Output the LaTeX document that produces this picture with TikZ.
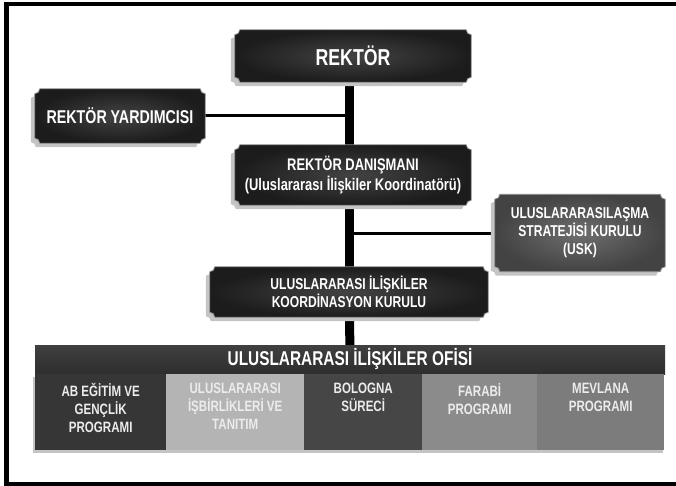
\documentclass[tikz,border=0pt]{standalone}
\usepackage{fontspec}
\setmainfont[FakeStretch=0.77]{Liberation Sans}
\usetikzlibrary{calc,positioning,backgrounds}

\definecolor{plaqueout}{HTML}{1C1C1C}
\definecolor{plaquein}{HTML}{434343}
\definecolor{uskout}{HTML}{434343}
\definecolor{uskin}{HTML}{6E6E6E}
\definecolor{plaqueedge}{HTML}{8C8C8C}
\definecolor{shadowgray}{HTML}{C4C4C4}
\definecolor{cellab}{HTML}{363636}
\definecolor{cellui}{HTML}{B4B4B4}
\definecolor{cellbol}{HTML}{464646}
\definecolor{cellfar}{HTML}{8B8B8B}
\definecolor{cellmev}{HTML}{7C7C7C}
\definecolor{cellink}{HTML}{ECECEC}

% plaque outline with hollow corners, used inside a let
\newcommand\plaquepath{(\x1,\y1+5pt) -- (\x1,\y2-5pt) arc[start angle=-90,end angle=0,radius=5pt]
  -- (\x2-5pt,\y2) arc[start angle=180,end angle=270,radius=5pt]
  -- (\x2,\y1+5pt) arc[start angle=90,end angle=180,radius=5pt]
  -- (\x1+5pt,\y1) arc[start angle=0,end angle=90,radius=5pt] -- cycle}
\newcommand\plaque[3]{%
  \path[fill=shadowgray] let \p1=([shift={(-4pt,-4pt)}]#1.south west),
    \p2=([shift={(-4pt,-4pt)}]#1.north east) in \plaquepath;
  \path[shade,inner color=#3,outer color=#2,draw=plaqueedge,line width=0.8pt]
    let \p1=(#1.south west), \p2=(#1.north east) in \plaquepath;
}

\begin{document}
\begin{tikzpicture}
  [x=1pt,y=1pt,
   every node/.style={align=center,text=white,inner sep=0pt},
   link/.style={line width=3pt,black},
   trunk/.style={line width=9pt,black},
   cell/.style={anchor=north west,minimum height=76pt},
   celltext/.style={font=\bfseries\fontsize{15}{18}\selectfont,text=cellink}]
  \useasboundingbox (0,0) rectangle (676,-486);

  \node [minimum width=236pt, minimum height=52pt, font=\bfseries\fontsize{23}{27}\selectfont] (rektor) at (353,-56) {REKTÖR};
  \node [minimum width=170pt, minimum height=54pt, font=\bfseries\fontsize{18.5}{22}\selectfont] (yard) at (120,-116) {REKTÖR YARDIMCISI};
  \node [minimum width=236pt, minimum height=60pt, font=\bfseries\fontsize{16.8}{19.5}\selectfont] (danis) at (353,-175) {REKTÖR DANIŞMANI\\(Uluslararası İlişkiler Koordinatörü)};
  \node [minimum width=170pt, minimum height=77pt, font=\bfseries\fontsize{15.7}{18}\selectfont] (usk) at (580,-233) {ULUSLARARASILAŞMA\\STRATEJİSİ KURULU\\(USK)};
  \node [minimum width=278pt, minimum height=50pt, font=\bfseries\fontsize{15.7}{18.5}\selectfont] (koord) at (349,-292) {ULUSLARARASI İLİŞKİLER\\KOORDİNASYON KURULU};

  \node [minimum width=630pt, minimum height=29pt, shade, top color=black!75, middle color=black!62, bottom color=black!82, font=\bfseries\fontsize{20}{23}\selectfont] (bar) at (350,-359.5) {ULUSLARARASI İLİŞKİLER OFİSİ};

  \fill [shadowgray] (33,-377) rectangle (663,-453);
  \node [cell, minimum width=131pt, fill=cellab] (ab) at (35,-374) {};
  \node [cell, minimum width=138pt, fill=cellui] (ui) at (166,-374) {};
  \node [cell, minimum width=118pt, fill=cellbol] (bol) at (304,-374) {};
  \node [cell, minimum width=115pt, fill=cellfar] (far) at (422,-374) {};
  \node [cell, minimum width=127pt, fill=cellmev] (mev) at (537,-374) {};

  \node [celltext, below=9pt of ab.north] (abt) {AB EĞİTİM VE\\GENÇLİK\\PROGRAMI};
  \node [celltext, below=9pt of ui.north] (uit) {ULUSLARARASI\\İŞBİRLİKLERİ VE\\TANITIM};
  \node [celltext, below=9pt of bol.north] (bolt) {BOLOGNA\\SÜRECİ};
  \node [celltext, below=9pt of far.north] (fart) {FARABİ\\PROGRAMI};
  \node [celltext, below=9pt of mev.north] (mevt) {MEVLANA\\PROGRAMI};

  \begin{scope}[on background layer]
    \draw [trunk] (koord.north) -- (bar);
    \draw [trunk] (rektor.south -| koord) -- (koord);
    \draw [link] (yard.east) -- (yard.east -| koord);
    \draw [link] (usk.west -| koord) -- (usk.west);
    \plaque{rektor}{plaqueout}{plaquein}
    \plaque{yard}{plaqueout}{plaquein}
    \plaque{danis}{plaqueout}{plaquein}
    \plaque{usk}{uskout}{uskin}
    \plaque{koord}{plaqueout}{plaquein}
  \end{scope}

  \draw [line width=4.5pt] (6.5,-486) -- (6.5,-4) -- (676,-4);
  \draw [line width=4pt] (6.5,-484) -- (676,-484);
\end{tikzpicture}
\end{document}
